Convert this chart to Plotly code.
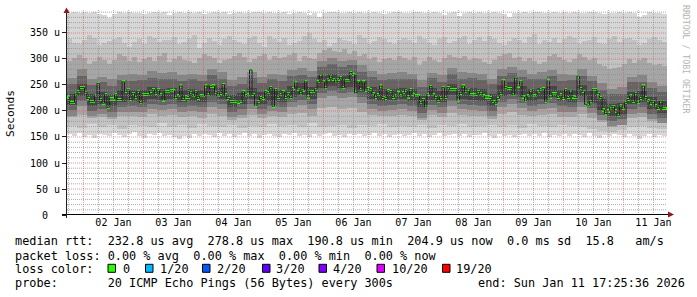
import pandas as pd
import plotly.graph_objects as go

# ---------------- data ----------------
START = "2026-01-01 17:25:36"
END = "2026-01-11 17:25:36"

# hourly median RTT in microseconds (240 columns)
median_us = [
    227, 216, 216, 233, 237, 245, 245, 236, 224, 218,
    218, 229, 253, 222, 215, 231, 207, 223, 223, 231,
    222, 222, 256, 238, 241, 222, 234, 226, 238, 216,
    232, 232, 231, 238, 241, 234, 241, 231, 221, 237,
    237, 239, 239, 226, 229, 248, 222, 227, 226, 236,
    229, 237, 224, 229, 229, 248, 231, 247, 248, 236,
    229, 234, 251, 231, 224, 218, 218, 219, 217, 219,
    237, 229, 231, 279, 232, 211, 218, 226, 224, 237,
    235, 245, 209, 241, 226, 231, 237, 226, 234, 226,
    243, 254, 242, 233, 240, 256, 227, 238, 237, 241,
    256, 271, 256, 245, 261, 267, 261, 256, 261, 264,
    245, 258, 258, 274, 270, 235, 256, 241, 256, 240,
    243, 241, 233, 226, 231, 248, 226, 224, 239, 237,
    226, 229, 235, 229, 235, 240, 227, 241, 232, 229,
    229, 216, 222, 208, 232, 247, 231, 226, 218, 226,
    245, 226, 245, 241, 241, 241, 220, 234, 248, 237,
    242, 231, 231, 232, 238, 234, 229, 227, 227, 226,
    218, 215, 224, 234, 258, 245, 243, 243, 231, 263,
    248, 256, 227, 220, 229, 240, 229, 229, 237, 241,
    243, 219, 258, 227, 233, 233, 226, 231, 224, 241,
    226, 240, 227, 226, 267, 243, 238, 213, 210, 218,
    241, 241, 234, 226, 202, 195, 200, 204, 209, 200,
    191, 210, 205, 216, 222, 229, 218, 234, 216, 224,
    248, 226, 220, 215, 219, 210, 205, 219, 205, 205,
]

# outer smoke edges, 2-hour columns (120)
smoke_top = [
    389, 390, 388, 391, 389, 390, 387, 384, 378, 386,
    390, 389, 391, 388, 389, 386, 388, 390, 389, 391,
    384, 389, 390, 388, 391, 389, 390, 387, 389, 390,
    388, 391, 386, 389, 390, 389, 388, 391, 390, 389,
    390, 388, 389, 391, 387, 389, 390, 388, 385, 389,
    380, 388, 390, 391, 389, 388, 390, 389, 391, 388,
    389, 390, 388, 386, 389, 391, 390, 388, 389, 390,
    391, 389, 388, 390, 389, 384, 388, 391, 383, 389,
    390, 388, 391, 389, 388, 390, 389, 386, 380, 389,
    388, 390, 389, 391, 390, 388, 389, 390, 388, 391,
    389, 390, 388, 389, 391, 390, 389, 386, 389, 388,
    390, 389, 391, 388, 381, 385, 390, 389, 388, 387,
]
smoke_bottom = [
    155, 152, 158, 150, 154, 149, 156, 153, 151, 157,
    154, 150, 156, 159, 152, 148, 155, 153, 157, 151,
    154, 150, 146, 152, 148, 155, 151, 156, 153, 150,
    157, 152, 155, 150, 154, 158, 151, 155, 149, 153,
    156, 152, 150, 155, 153, 157, 151, 154, 150, 156,
    152, 155, 158, 151, 154, 150, 156, 153, 155, 151,
    154, 157, 152, 155, 150, 153, 156, 151, 154, 158,
    152, 155, 150, 154, 157, 151, 153, 156, 152, 155,
    150, 154, 153, 157, 151, 149, 155, 152, 154, 150,
    153, 156, 151, 155, 152, 158, 150, 154, 152, 156,
    151, 155, 153, 150, 157, 152, 148, 154, 151, 155,
    153, 150, 156, 152, 147, 151, 155, 150, 153, 152,
]

# upper inner smoke edges, 2-hour columns (120)
band1_hi = [
    338, 331, 329, 336, 347, 341, 326, 331, 335, 339,
    342, 330, 324, 333, 338, 329, 345, 340, 332, 336,
    336, 343, 328, 333, 339, 346, 322, 331, 341, 335,
    326, 338, 345, 337, 333, 329, 341, 344, 330, 324,
    345, 338, 333, 340, 327, 331, 335, 344, 350, 339,
    332, 337, 325, 330, 341, 336, 334, 329, 346, 340,
    328, 334, 343, 338, 333, 328, 337, 341, 336, 330,
    344, 339, 331, 327, 338, 342, 330, 335, 340, 345,
    329, 336, 342, 335, 345, 338, 330, 326, 334, 341,
    337, 331, 343, 348, 329, 336, 333, 340, 331, 339,
    345, 340, 328, 334, 336, 342, 331, 329, 339, 344,
    333, 338, 341, 336, 327, 331, 338, 343, 337, 333,
]
band2_hi = [
    296, 301, 308, 302, 291, 297, 303, 299, 290, 298,
    309, 305, 297, 303, 294, 300, 303, 296, 306, 311,
    294, 300, 305, 299, 297, 292, 302, 309, 306, 301,
    292, 298, 300, 305, 311, 304, 294, 300, 305, 310,
    298, 306, 301, 304, 307, 311, 297, 305, 302, 300,
    312, 318, 321, 315, 314, 320, 309, 315, 305, 310,
    300, 304, 295, 300, 302, 298, 306, 301, 298, 303,
    288, 296, 303, 298, 294, 301, 308, 304, 301, 306,
    298, 302, 300, 295, 291, 298, 306, 309, 312, 301,
    303, 297, 301, 297, 290, 294, 306, 309, 303, 299,
    295, 300, 309, 304, 298, 302, 290, 286, 281, 283,
    285, 290, 300, 293, 298, 302, 293, 289, 291, 287,
]

# remaining inner smoke bands, 4-hour columns (60 each)
band1_lo = [
    172, 168, 175, 170, 173, 166, 174, 171, 169, 176,
    170, 173, 167, 175, 171, 169, 174, 168, 172, 170,
    175, 171, 173, 169, 176, 170, 172, 174, 168, 173,
    171, 175, 169, 172, 170, 174, 168, 173, 171, 175,
    169, 172, 174, 170, 173, 167, 175, 171, 169, 174,
    172, 170, 166, 162, 160, 163, 170, 172, 168, 165,
]
band2_lo = [
    188, 193, 186, 189, 184, 190, 191, 188, 194, 190,
    192, 189, 190, 187, 195, 191, 182, 186, 192, 187,
    190, 189, 194, 196, 191, 205, 208, 204, 206, 198,
    192, 190, 191, 193, 190, 183, 192, 188, 196, 192,
    191, 190, 184, 195, 198, 193, 190, 192, 194, 189,
    189, 195, 187, 178, 170, 173, 186, 188, 181, 178,
]
band3_lo = [
    191, 209, 190, 194, 189, 198, 199, 198, 204, 201,
    203, 198, 200, 198, 208, 203, 188, 193, 203, 194,
    200, 198, 207, 211, 204, 225, 229, 225, 227, 216,
    204, 200, 201, 203, 200, 187, 202, 197, 210, 203,
    202, 200, 190, 208, 213, 206, 200, 203, 206, 199,
    198, 208, 196, 182, 171, 174, 194, 197, 184, 177,
]
band3_hi = [
    263, 281, 262, 266, 261, 270, 271, 270, 276, 273,
    275, 270, 272, 270, 280, 275, 260, 265, 275, 266,
    272, 270, 279, 283, 276, 297, 301, 297, 299, 288,
    276, 272, 273, 275, 272, 259, 274, 269, 282, 275,
    274, 272, 262, 280, 285, 278, 272, 275, 278, 271,
    270, 280, 268, 254, 243, 246, 266, 269, 256, 249,
]
band4_lo = [
    201, 219, 200, 204, 199, 208, 209, 208, 214, 211,
    213, 208, 210, 208, 218, 213, 198, 203, 213, 204,
    210, 208, 217, 221, 214, 235, 239, 235, 237, 226,
    214, 210, 211, 213, 210, 197, 212, 207, 220, 213,
    212, 210, 200, 218, 223, 216, 210, 213, 216, 209,
    208, 218, 206, 192, 181, 184, 204, 207, 194, 187,
]
band4_hi = [
    251, 268, 250, 255, 248, 259, 258, 259, 263, 262,
    262, 258, 261, 257, 269, 262, 249, 252, 264, 253,
    261, 257, 268, 270, 265, 284, 290, 284, 288, 275,
    265, 259, 262, 262, 261, 246, 263, 256, 271, 262,
    263, 259, 251, 267, 274, 265, 261, 262, 267, 258,
    259, 267, 257, 241, 232, 233, 255, 256, 245, 236,
]
band5_lo = [
    211, 229, 210, 214, 209, 218, 219, 218, 224, 221,
    223, 218, 220, 218, 228, 223, 208, 213, 223, 214,
    220, 218, 227, 231, 224, 245, 249, 245, 247, 236,
    224, 220, 221, 223, 220, 207, 222, 217, 230, 223,
    222, 220, 210, 228, 233, 226, 220, 223, 226, 219,
    218, 228, 216, 202, 191, 194, 214, 217, 204, 197,
]
band5_hi = [
    233, 251, 232, 236, 231, 240, 241, 240, 246, 243,
    245, 240, 242, 240, 250, 245, 230, 235, 245, 236,
    242, 240, 249, 253, 246, 267, 271, 267, 269, 258,
    246, 242, 243, 245, 242, 229, 244, 239, 252, 245,
    244, 242, 232, 250, 255, 248, 242, 245, 248, 241,
    240, 250, 238, 224, 213, 216, 236, 239, 226, 219,
]

y_tick_vals = [0, 50, 100, 150, 200, 250, 300, 350]
y_tick_text = ["0\u00a0\u00a0", "50 u", "100 u", "150 u", "200 u", "250 u", "300 u", "350 u"]

loss_labels = ["0", "1/20", "2/20", "3/20", "4/20", "10/20", "19/20"]
loss_colors = ["#26ff00", "#00b8ff", "#0059ff", "#5e00ff", "#7e00ff", "#dd00ff", "#ff0000"]

legend_lines = [
    "median rtt:  232.8 us avg  278.8 us max  190.8 us min  204.9 us now  0.0 ms sd  15.8   am/s",
    "packet loss: 0.00 % avg  0.00 % max  0.00 % min  0.00 % now",
    "loss color:",
    "probe:       20 ICMP Echo Pings (56 Bytes) every 300s",
]
end_text = "end: Sun Jan 11 17:25:36 2026"
watermark = "RRDTOOL / TOBI OETIKER"

# ---------------- layout geometry ----------------
FW, FH = 697, 297
ML, MR, MT, MB = 67, 30, 10, 82
PW, PH = FW - ML - MR, FH - MT - MB
Y_MAX = 394.2


def px(x):
    return (x - ML) / PW


def py(y):
    return (MT + PH - y) / PH


t0 = pd.Timestamp(START)
HOUR_MS = 3600 * 1000


def centers(n, hours):
    return [t0 + pd.Timedelta(hours=hours * (i + 0.5)) for i in range(n)]


fig = go.Figure()

layers = [
    (smoke_bottom, smoke_top, 2, "#d7d7d7"),
    (band1_lo, band1_hi, None, "#c2c2c2"),
    (band2_lo, band2_hi, None, "#a6a6a6"),
    (band3_lo, band3_hi, 4, "#858585"),
    (band4_lo, band4_hi, 4, "#646464"),
    (band5_lo, band5_hi, 4, "#454545"),
]
for lo, hi, hrs, col in layers:
    if hrs is None:
        # lower edge at 4 h, upper edge at 2 h resolution: draw per 2 h column
        lo2 = [v for v in lo for _ in (0, 1)]
        lo, hrs = lo2, 2
    fig.add_trace(go.Bar(
        x=centers(len(lo), hrs),
        y=[h - l for l, h in zip(lo, hi)],
        base=lo,
        width=hrs * HOUR_MS,
        marker=dict(color=col, line=dict(width=0)),
        hoverinfo="skip",
        showlegend=False,
    ))

xc = centers(len(median_us), 1)
fig.add_trace(go.Scatter(
    x=xc, y=median_us, mode="lines",
    line=dict(color="#202020", width=1, shape="hvh"),
    hoverinfo="skip", showlegend=False,
))
fig.add_trace(go.Bar(
    x=xc,
    y=[6] * len(median_us),
    base=[m - 3 for m in median_us],
    width=HOUR_MS,
    marker=dict(color=loss_colors[0], line=dict(width=0)),
    hoverinfo="skip", showlegend=False,
))

shapes = []
# grid drawn above the smoke, as rrdtool does
minor_col = "rgba(143,143,143,0.75)"
major_col = "rgba(222,79,79,0.6)"
for t in pd.date_range("2026-01-01 18:00", "2026-01-11 12:00", freq="6h"):
    major = t.hour == 0
    shapes.append(dict(type="line", xref="x", yref="paper", x0=t, x1=t, y0=0, y1=1,
                       line=dict(color=major_col if major else minor_col, width=1, dash="1px,1px"),
                       layer="above"))
for v in range(10, 391, 10):
    major = v % 50 == 0
    shapes.append(dict(type="line", xref="paper", yref="y", x0=0, x1=1, y0=v, y1=v,
                       line=dict(color=major_col if major else minor_col, width=1, dash="1px,1px"),
                       layer="above"))

# axes and arrows
shapes.append(dict(type="line", xref="paper", yref="paper", x0=px(62), x1=px(669),
                   y0=py(214.5), y1=py(214.5), line=dict(color="#000000", width=1), layer="above"))
shapes.append(dict(type="line", xref="paper", yref="paper", x0=px(66.5), x1=px(66.5),
                   y0=py(218), y1=py(11), line=dict(color="#1f1f1f", width=1), layer="above"))
arrow_col = "#8b1a1a"
shapes.append(dict(type="path", xref="paper", yref="paper",
                   path=f"M {px(63.5)} {py(13)} L {px(69.5)} {py(13)} L {px(66.5)} {py(7.5)} Z",
                   fillcolor=arrow_col, line=dict(width=0), layer="above"))
shapes.append(dict(type="path", xref="paper", yref="paper",
                   path=f"M {px(668)} {py(211.5)} L {px(668)} {py(217.5)} L {px(674)} {py(214.5)} Z",
                   fillcolor=arrow_col, line=dict(width=0), layer="above"))

# loss color squares
sq_x = [108, 145.5, 202.5, 262.5, 319, 377, 442.5]
lab_x = [122.5, 160, 216.7, 276, 332.5, 391.5, 456]
for sx, c in zip(sq_x, loss_colors):
    shapes.append(dict(type="rect", xref="paper", yref="paper",
                       x0=px(sx), x1=px(sx + 7.5), y0=py(272.3), y1=py(264.3),
                       fillcolor=c, line=dict(color="#000000", width=1), layer="above"))

MONO = "DejaVu Sans Mono"
annotations = []


def nb(s):
    return s.replace(" ", "\u00a0")


line_y = [241, 255.5, 269, 283.3]
for txt, yy in zip(legend_lines, line_y):
    annotations.append(dict(text=nb(txt), xref="paper", yref="paper", x=px(15), y=py(yy),
                            xanchor="left", yanchor="middle", showarrow=False,
                            font=dict(family=MONO, size=11.85, color="#000"),
                            borderpad=0, borderwidth=0))
for lx, lab in zip(lab_x, loss_labels):
    annotations.append(dict(text=nb(lab), xref="paper", yref="paper", x=px(lx), y=py(269),
                            xanchor="left", yanchor="middle", showarrow=False,
                            font=dict(family=MONO, size=11.85, color="#000"),
                            borderpad=0, borderwidth=0))
annotations.append(dict(text=nb(end_text), xref="paper", yref="paper", x=px(477.8), y=py(283.3),
                        xanchor="left", yanchor="middle", showarrow=False,
                        font=dict(family=MONO, size=11.85, color="#000"),
                        borderpad=0, borderwidth=0))
annotations.append(dict(text="Seconds", xref="paper", yref="paper", x=px(10.8), y=py(113.3),
                        xanchor="center", yanchor="middle", showarrow=False, textangle=-90,
                        font=dict(family=MONO, size=11.2, color="#000"),
                        borderpad=0, borderwidth=0))
annotations.append(dict(text=nb(watermark), xref="paper", yref="paper", x=px(686), y=py(59),
                        xanchor="center", yanchor="middle", showarrow=False, textangle=90,
                        font=dict(family=MONO, size=8.2, color="#b4b4b4"),
                        borderpad=0, borderwidth=0))

fig.update_layout(
    width=FW, height=FH, autosize=False,
    margin=dict(l=ML, r=MR, t=MT, b=MB, pad=0),
    paper_bgcolor="#ffffff", plot_bgcolor="#ffffff",
    barmode="overlay", bargap=0,
    showlegend=False,
    shapes=shapes,
    annotations=annotations,
    xaxis=dict(
        type="date", range=[START, END],
        showgrid=False, zeroline=False, showline=False,
        tick0="2026-01-01", dtick=86400000, ticklabelmode="period",
        tickformat="%d %b", ticks="",
        tickfont=dict(family=MONO, size=10, color="#000"),
        fixedrange=True,
    ),
    yaxis=dict(
        range=[0, Y_MAX],
        showgrid=False, zeroline=False, showline=False,
        tickmode="array", tickvals=y_tick_vals, ticktext=y_tick_text,
        ticks="outside", ticklen=4, tickcolor="#1f1f1f", tickwidth=1,
        tickfont=dict(family=MONO, size=10, color="#000"),
        fixedrange=True,
    ),
)

fig.write_html("out.html")
